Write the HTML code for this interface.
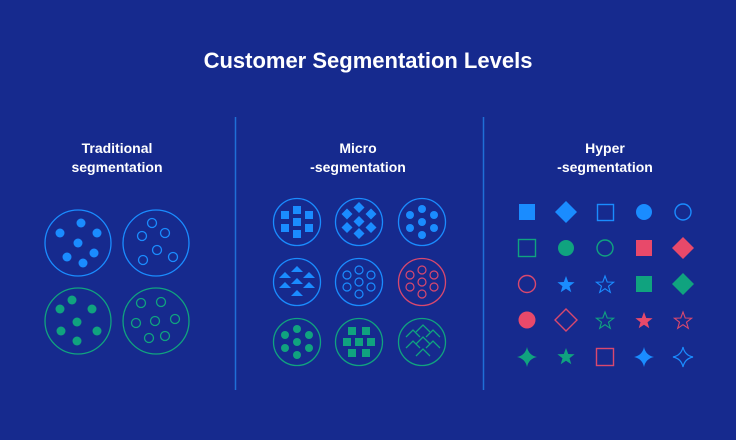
<!DOCTYPE html>
<html><head><style>
html,body{margin:0;padding:0;background:#162a8e;}
svg{display:block;}
text{font-family:"Liberation Sans",sans-serif;font-weight:bold;fill:#fff;text-anchor:middle;}
</style></head><body>
<svg width="736" height="440" viewBox="0 0 736 440" xmlns="http://www.w3.org/2000/svg">
<defs>
<polygon id="star" points="0,-9 2.2,-3 8.6,-2.8 3.5,1.2 5.3,7.3 0,3.7 -5.3,7.3 -3.5,1.2 -8.6,-2.8 -2.2,-3"/>
<path id="spark" d="M0,-10 Q1.7,-1.7 10,0 Q1.7,1.7 0,10 Q-1.7,1.7 -10,0 Q-1.7,-1.7 0,-10Z"/>
<polygon id="dia" points="0,-11 11,0 0,11 -11,0"/>
</defs>
<rect width="736" height="440" fill="#162a8e"/>
<text x="368" y="68" font-size="22">Customer Segmentation Levels</text>
<text x="117" y="153" font-size="14">Traditional</text>
<text x="117" y="172" font-size="14">segmentation</text>
<text x="358" y="153" font-size="14">Micro</text>
<text x="358" y="172" font-size="14">-segmentation</text>
<text x="605" y="153" font-size="14">Hyper</text>
<text x="605" y="172" font-size="14">-segmentation</text>
<line x1="235.5" y1="117" x2="235.5" y2="390" stroke="#1f6fd6" stroke-width="1.5"/>
<line x1="483.5" y1="117" x2="483.5" y2="390" stroke="#1f6fd6" stroke-width="1.5"/>

<g fill="none" stroke-width="1.3">
<circle cx="78" cy="243" r="33" stroke="#1a8cff"/>
<circle cx="156" cy="243" r="33" stroke="#1a8cff"/>
<circle cx="78" cy="321" r="33" stroke="#10a37f"/>
<circle cx="156" cy="321" r="33" stroke="#10a37f"/>
</g>
<g fill="#1a8cff">
<circle cx="60" cy="233" r="4.5"/><circle cx="81" cy="223" r="4.5"/><circle cx="97" cy="233" r="4.5"/><circle cx="78" cy="243" r="4.5"/><circle cx="67" cy="257" r="4.5"/><circle cx="94" cy="253" r="4.5"/><circle cx="83" cy="263" r="4.5"/>
</g>
<g fill="none" stroke="#1a8cff" stroke-width="1.3">
<circle cx="152" cy="223" r="4.5"/><circle cx="142" cy="236" r="4.5"/><circle cx="165" cy="233" r="4.5"/><circle cx="157" cy="250" r="4.5"/><circle cx="143" cy="260" r="4.5"/><circle cx="173" cy="257" r="4.5"/>
</g>
<g fill="#10a37f">
<circle cx="72" cy="300" r="4.5"/><circle cx="60" cy="309" r="4.5"/><circle cx="92" cy="309" r="4.5"/><circle cx="77" cy="322" r="4.5"/><circle cx="61" cy="331" r="4.5"/><circle cx="97" cy="331" r="4.5"/><circle cx="77" cy="341" r="4.5"/>
</g>
<g fill="none" stroke="#10a37f" stroke-width="1.3">
<circle cx="141" cy="303" r="4.5"/><circle cx="161" cy="302" r="4.5"/><circle cx="136" cy="323" r="4.5"/><circle cx="155" cy="321" r="4.5"/><circle cx="175" cy="319" r="4.5"/><circle cx="149" cy="338" r="4.5"/><circle cx="165" cy="336" r="4.5"/>
</g>

<g fill="none" stroke-width="1.3">
<circle cx="297" cy="222" r="23.5" stroke="#1a8cff"/>
<circle cx="359" cy="222" r="23.5" stroke="#1a8cff"/>
<circle cx="422" cy="222" r="23.5" stroke="#1a8cff"/>
<circle cx="297" cy="282" r="23.5" stroke="#1a8cff"/>
<circle cx="359" cy="282" r="23.5" stroke="#1a8cff"/>
<circle cx="422" cy="282" r="23.5" stroke="#d9486e"/>
<circle cx="297" cy="342" r="23.5" stroke="#10a37f"/>
<circle cx="359" cy="342" r="23.5" stroke="#10a37f"/>
<circle cx="422" cy="342" r="23.5" stroke="#10a37f"/>
</g>
<g fill="#1a8cff" transform="translate(297,222)">
<rect x="-4" y="-16" width="8" height="8"/><rect x="-16" y="-11" width="8" height="8"/><rect x="8" y="-11" width="8" height="8"/><rect x="-4" y="-4" width="8" height="8"/><rect x="-16" y="2" width="8" height="8"/><rect x="8" y="2" width="8" height="8"/><rect x="-4" y="8" width="8" height="8"/>
</g>
<g fill="#1a8cff" transform="translate(359,222)">
<polygon points="0,-20 5.5,-14.5 0,-9 -5.5,-14.5"/><polygon points="-12,-13.5 -6.5,-8 -12,-2.5 -17.5,-8"/><polygon points="12,-13.5 17.5,-8 12,-2.5 6.5,-8"/><polygon points="0,-6 5.5,-0.5 0,5 -5.5,-0.5"/><polygon points="-12,0 -6.5,5.5 -12,11 -17.5,5.5"/><polygon points="12,0 17.5,5.5 12,11 6.5,5.5"/><polygon points="0,6 5.5,11.5 0,17 -5.5,11.5"/>
</g>
<g fill="#1a8cff" transform="translate(422,222)">
<circle cx="0" cy="-13" r="4"/><circle cx="-12" cy="-7" r="4"/><circle cx="12" cy="-7" r="4"/><circle cx="0" cy="0" r="4"/><circle cx="-12" cy="6" r="4"/><circle cx="12" cy="6" r="4"/><circle cx="0" cy="13" r="4"/>
</g>
<g fill="#1a8cff" transform="translate(297,282)">
<polygon points="0,-16 6,-10 -6,-10"/><polygon points="-12,-10 -6,-4 -18,-4"/><polygon points="12,-10 18,-4 6,-4"/><polygon points="0,-4 6,2 -6,2"/><polygon points="-12,0 -6,6 -18,6"/><polygon points="12,0 18,6 6,6"/><polygon points="0,8 6,14 -6,14"/>
</g>
<g fill="none" stroke="#1a8cff" stroke-width="1.2" transform="translate(359,282)">
<circle cx="0" cy="-12" r="4"/><circle cx="-12" cy="-7" r="4"/><circle cx="12" cy="-7" r="4"/><circle cx="0" cy="0" r="4"/><circle cx="-12" cy="5" r="4"/><circle cx="12" cy="5" r="4"/><circle cx="0" cy="12" r="4"/>
</g>
<g fill="none" stroke="#d9486e" stroke-width="1.2" transform="translate(422,282)">
<circle cx="0" cy="-12" r="4"/><circle cx="-12" cy="-7" r="4"/><circle cx="12" cy="-7" r="4"/><circle cx="0" cy="0" r="4"/><circle cx="-12" cy="5" r="4"/><circle cx="12" cy="5" r="4"/><circle cx="0" cy="12" r="4"/>
</g>
<g fill="#10a37f" transform="translate(297,342)">
<circle cx="0" cy="-13" r="4"/><circle cx="-12" cy="-7" r="4"/><circle cx="12" cy="-7" r="4"/><circle cx="0" cy="0" r="4"/><circle cx="-12" cy="6" r="4"/><circle cx="12" cy="6" r="4"/><circle cx="0" cy="13" r="4"/>
</g>
<g fill="#10a37f" transform="translate(359,342)">
<rect x="-11" y="-15" width="8" height="8"/><rect x="3" y="-15" width="8" height="8"/><rect x="-16" y="-4" width="8" height="8"/><rect x="-4" y="-4" width="8" height="8"/><rect x="8" y="-4" width="8" height="8"/><rect x="-11" y="7" width="8" height="8"/><rect x="3" y="7" width="8" height="8"/>
</g>
<g fill="none" stroke="#10a37f" stroke-width="1.3" transform="translate(422,342)">
<polyline points="-16,-5 -9,-12 -2,-5"/><polyline points="-6,-10 1,-17 8,-10"/><polyline points="4,-5 11,-12 18,-5"/>
<polyline points="-16,6 -9,-1 -2,6"/><polyline points="-6,2 1,-5 8,2"/><polyline points="4,6 11,-1 18,6"/>
<polyline points="-6,14 1,7 8,14"/>
</g>

<g stroke-width="1.4">
<rect x="519" y="204" width="16" height="16" fill="#1a8cff"/>
<use href="#dia" x="566" y="212" fill="#1a8cff"/>
<rect x="597.5" y="204.5" width="16" height="16" fill="none" stroke="#1a8cff"/>
<circle cx="644" cy="212" r="8" fill="#1a8cff"/>
<circle cx="683" cy="212" r="8" fill="none" stroke="#1a8cff"/>
<rect x="518.5" y="239.5" width="17" height="17" fill="none" stroke="#10a37f"/>
<circle cx="566" cy="248" r="8" fill="#10a37f"/>
<circle cx="605" cy="248" r="8" fill="none" stroke="#10a37f"/>
<rect x="636" y="240" width="16" height="16" fill="#e8496a"/>
<use href="#dia" x="683" y="248" fill="#e8496a"/>
<circle cx="527" cy="284" r="8.5" fill="none" stroke="#d9486e"/>
<use href="#star" x="566" y="285" fill="#1a8cff"/>
<use href="#star" x="605" y="285" fill="none" stroke="#1a8cff" stroke-width="1.1"/>
<rect x="636" y="276" width="16" height="16" fill="#10a37f"/>
<use href="#dia" x="683" y="284" fill="#10a37f"/>
<circle cx="527" cy="320" r="8.5" fill="#e8496a"/>
<use href="#dia" x="566" y="320" fill="none" stroke="#d9486e"/>
<use href="#star" x="605" y="321" fill="none" stroke="#10a37f" stroke-width="1.1"/>
<use href="#star" x="644" y="321" fill="#e8496a"/>
<use href="#star" x="683" y="321" fill="none" stroke="#d9486e" stroke-width="1.1"/>
<use href="#spark" x="527" y="357" fill="#10a37f"/>
<use href="#star" x="566" y="357" fill="#10a37f"/>
<rect x="596.5" y="348.5" width="17" height="17" fill="none" stroke="#d9486e"/>
<use href="#spark" x="644" y="357" fill="#1a8cff"/>
<use href="#spark" x="683" y="357" fill="none" stroke="#1a8cff" stroke-width="1.2"/>
</g>
</svg>
</body></html>
